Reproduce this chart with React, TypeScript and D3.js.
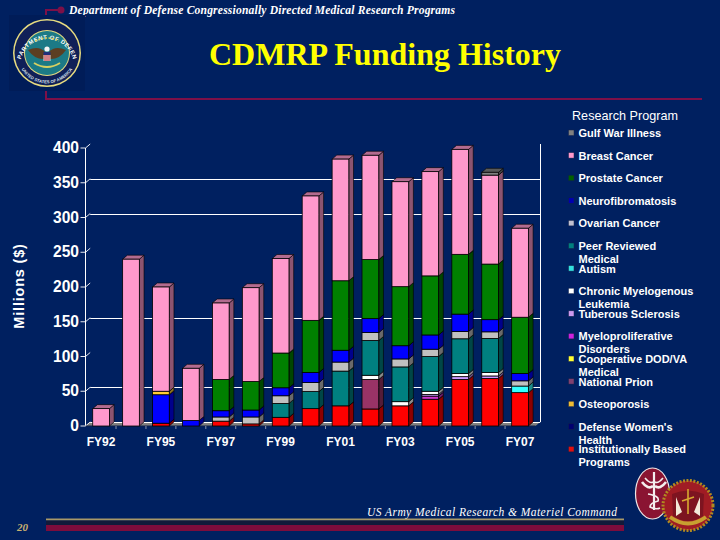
import React from "react";
import * as d3 from "d3";

const years = ["FY92","FY93","FY95","FY96","FY97","FY98","FY99","FY00","FY01","FY02","FY03","FY04","FY05","FY06","FY07"];
const shownYears = ["FY92","FY95","FY97","FY99","FY01","FY03","FY05","FY07"];
const yTicks = [0,50,100,150,200,250,300,350,400];
const gridValues = [50,150,300,350];

const institutional = [0,0,4,0,7,3,12.5,25,29,24.5,29,38.5,67,68.5,48];
const womensHealth =  [0,0,41,8,0,0,0,0,0,0,0,0,0,0,0];
const osteoporosis =  [0,0,5,0,0,0,0,0,0,0,0,0,0,0,0];
const prion =         [0,0,0,0,0,0,0,0,0,42.5,0,0,0,0,0];
const cooperative =   [0,0,0,0,0,0,0,0,0,0,0,0,0,0,0];
const myelo =         [0,0,0,0,0,0,0,0,0,0,0,4.5,0,0,0];
const tuberous =      [0,0,0,0,0,0,0,0,0,0,0,2.5,4,3.5,0];
const cml =           [0,0,0,0,0,0,0,0,0,6,6,4.5,4.5,5,0];
const autism =        [0,0,0,0,0,0,0,0,0,0,0,0,0,0,9.5];
const peerReviewed =  [0,0,0,0,0,0,20,24.5,50,50,50,50,50,49,0];
const ovarian =       [0,0,0,0,6,10,11,13,13,11.5,11.5,10.5,10.5,9.5,7.5];
const neuro =         [0,0,0,0,9,10,11.5,14.5,17,20,19,20.5,25,17.5,10.5];
const prostate =      [0,0,0,0,45,41,50,75,100,85,85,85,86,80,81];
const breast =        [25,240,150,75,110,135,136,179,175,150,151,150,151,128,128];
const gulfWar =       [0,0,0,0,0,0,0,0,0,0,0,0,0,4,0];

const seriesNames = ["Institutionally Based Programs","Defense Women's Health","Osteoporosis","National Prion","Cooperative DOD/VA Medical","Myeloproliferative Disorders","Tuberous Sclerosis","Chronic Myelogenous Leukemia","Autism","Peer Reviewed Medical","Ovarian Cancer","Neurofibromatosis","Prostate Cancer","Breast Cancer","Gulf War Illness"];
const seriesValues = [institutional,womensHealth,osteoporosis,prion,cooperative,myelo,tuberous,cml,autism,peerReviewed,ovarian,neuro,prostate,breast,gulfWar];
const barColors = ["#ff0000","#0000ff","#ffcc33","#993366","#ffff00","#cc33cc","#cc99ff","#ffffff","#33ffff","#008080","#c0c0c0","#0000ff","#008000","#ff99cc","#808080"];

const legendOrder = ["Gulf War Illness","Breast Cancer","Prostate Cancer","Neurofibromatosis","Ovarian Cancer","Peer Reviewed Medical","Autism","Chronic Myelogenous Leukemia","Tuberous Sclerosis","Myeloproliferative Disorders","Cooperative DOD/VA Medical","National Prion","Osteoporosis","Defense Women's Health","Institutionally Based Programs"];
const legendLines = [["Gulf War Illness"],["Breast Cancer"],["Prostate Cancer"],["Neurofibromatosis"],["Ovarian Cancer"],["Peer Reviewed","Medical"],["Autism"],["Chronic Myelogenous","Leukemia"],["Tuberous Sclerosis"],["Myeloproliferative","Disorders"],["Cooperative DOD/VA","Medical"],["National Prion"],["Osteoporosis"],["Defense Women's","Health"],["Institutionally Based","Programs"]];
const legendSwatches = ["#808080","#ff99cc","#006000","#0000b0","#c0c0d0","#008080","#33e0e0","#ffffff","#cc99ee","#cc22dd","#ffff33","#804070","#eebb33","#000070","#e01010"];

const BG = "#002060";
const MAROON = "#7d1048";
const DX = 4.7, DY = 4;
const FLOOR = 426;

const x = d3.scaleBand<string>().domain(years).range([86.1, 535]).paddingInner(0.442).paddingOuter(0.221);
const y = d3.scaleLinear().domain([0, 400]).range([FLOOR, FLOOR - 278]);
const legendY = d3.scalePoint<string>().domain(legendOrder).range([133, 133 + 22.6 * 14]);

const rows = years.map((yr, i) => {
  const r: Record<string, number> = {};
  seriesNames.forEach((n, s) => { r[n] = seriesValues[s][i]; });
  return r;
});
const stacked = d3.stack<Record<string, number>>().keys(seriesNames)(rows);

const shade = (c: string, t: number) => d3.interpolateRgb(c, "#000000")(t);
const poly = (p: number[][]) => p.map(q => q.join(",")).join(" ");
const crisp = (v: number) => Math.round(v) + 0.5;
const sans = "'Liberation Sans', Arial, sans-serif";
const serif = "'Liberation Serif', 'Times New Roman', serif";

function Bars() {
  const w = x.bandwidth();
  const out: React.ReactNode[] = [];
  years.forEach((yr, i) => {
    const x0 = x(yr) as number;
    stacked.forEach((layer, s) => {
      const [a, b] = layer[i];
      if (b - a <= 0) return;
      const y0 = y(a), y1 = y(b), c = barColors[s];
      out.push(
        <g key={yr + s}>
          <polygon points={poly([[x0 + w, y0], [x0 + w + DX, y0 - DY], [x0 + w + DX, y1 - DY], [x0 + w, y1]])} fill={shade(c, 0.45)} stroke="#000" strokeWidth={0.6} />
          <polygon points={poly([[x0, y1], [x0 + DX, y1 - DY], [x0 + w + DX, y1 - DY], [x0 + w, y1]])} fill={shade(c, 0.3)} stroke="#000" strokeWidth={0.6} />
          <rect x={x0} y={y1} width={w} height={y0 - y1} fill={c} stroke="#000" strokeWidth={0.8} />
        </g>
      );
    });
  });
  return <g>{out}</g>;
}

function Axes() {
  const left = 85.5;
  const right = 535.5;
  return (
    <g>
      <polygon points={poly([[left, FLOOR], [left + DX, FLOOR - DY], [right + DX, FLOOR - DY], [right, FLOOR]])} fill="#808080" />
      <line x1={left + DX} x2={right + DX} y1={crisp(FLOOR - DY)} y2={crisp(FLOOR - DY)} stroke="#fff" strokeWidth={1} />
      {gridValues.map(v => (
        <line key={v} x1={left + DX} x2={right + DX} y1={crisp(y(v) - DY)} y2={crisp(y(v) - DY)} stroke="#fff" strokeWidth={1} />
      ))}
      <line x1={crisp(right + DX)} x2={crisp(right + DX)} y1={y(400) - DY} y2={FLOOR - DY} stroke="#fff" strokeWidth={1} />
      <line x1={crisp(x("FY02") as number)} x2={crisp(x("FY02") as number)} y1={y(390)} y2={FLOOR} stroke="#fff" strokeWidth={1} />
      <line x1={left} x2={left} y1={y(400)} y2={FLOOR} stroke="#fff" strokeWidth={1} />
      {yTicks.map(v => (
        <g key={v}>
          <polyline points={poly([[left - 5, y(v)], [left, y(v)], [left + DX, y(v) - DY]])} fill="none" stroke="#fff" strokeWidth={0.9} />
          <text x={79} y={y(v) + 5.2} textAnchor="end" fontFamily={sans} fontWeight="bold" fontSize={15.6} fill="#fff">{v}</text>
        </g>
      ))}
      <line x1={left} x2={right} y1={FLOOR} y2={FLOOR} stroke="#10204a" strokeWidth={1} />
      {years.map((yr, i) => i === 0 ? null : (
        <line key={yr} x1={(x(yr) as number) - x.step() * 0.221} x2={(x(yr) as number) - x.step() * 0.221} y1={FLOOR} y2={FLOOR + 3} stroke="#8890a8" strokeWidth={1} />
      ))}
      {shownYears.map(yr => (
        <text key={yr} x={(x(yr) as number) + x.bandwidth() / 2} y={445.5} textAnchor="middle" fontFamily={sans} fontWeight="bold" fontSize={12} fill="#fff">{yr}</text>
      ))}
      <text transform="translate(23.5,286) rotate(-90)" textAnchor="middle" fontFamily={sans} fontWeight="bold" fontSize={14.5} letterSpacing={0.8} fill="#fff">Millions ($)</text>
    </g>
  );
}

function Legend() {
  return (
    <g fontFamily={sans} fontWeight="bold" fontSize={11} fill="#fff">
      <text x={572} y={120} fontWeight="normal" fontSize={12.6} textLength={106}>Research Program</text>
      {legendOrder.map((n, i) => {
        const cy = legendY(n) as number;
        return (
          <g key={n}>
            <rect x={568.5} y={cy - 3} width={5.5} height={5.5} fill={legendSwatches[i]} stroke="#10204a" strokeWidth={0.5} />
            {legendLines[i].map((l, j) => (
              <text key={l} x={578.5} y={cy + 4 + j * 13}>{l}</text>
            ))}
          </g>
        );
      })}
    </g>
  );
}

function Seal() {
  return (
    <g transform="translate(47,53)">
      <rect x={-38} y={-38} width={76} height={76} fill="#001c58" />
      <circle r={34} fill="#e8dc80" />
      <circle r={32.5} fill="#102058" />
      <circle r={23} fill="#e8dc80" />
      <circle r={22} fill="#1c7a86" />
      <defs>
        <path id="sealTop" d="M -26 6 A 27 27 0 0 1 26 6" />
        <path id="sealBottom" d="M -29 8 A 30 30 0 0 0 29 8" />
      </defs>
      <text fontFamily={sans} fontWeight="bold" fontSize={5.8} fill="#fff" letterSpacing={0.5}>
        <textPath href="#sealTop" startOffset="50%" textAnchor="middle">DEPARTMENT OF DEFENSE</textPath>
      </text>
      <text fontFamily={sans} fontWeight="bold" fontSize={4.2} fill="#dfe4ee">
        <textPath href="#sealBottom" startOffset="50%" textAnchor="middle">UNITED STATES OF AMERICA</textPath>
      </text>
      <path d="M -19 -3 Q -8 -8 -2 -1 L -2 6 Q -12 7 -19 -3 Z" fill="#5c3e22" />
      <path d="M 19 -3 Q 8 -8 2 -1 L 2 6 Q 12 7 19 -3 Z" fill="#5c3e22" />
      <circle cy={-4} r={2.6} fill="#f4f4f4" />
      <rect x={-3.5} y={-1} width={7} height={3} fill="#22307a" />
      <rect x={-3.5} y={2} width={7} height={6} fill="#e6e0e0" />
      <path d="M -2 2 V 8 M 0 2 V 8 M 2 2 V 8" stroke="#c02030" strokeWidth={1} />
      <path d="M -13 10 Q 0 18 13 10" fill="none" stroke="#d8d060" strokeWidth={2} />
      <path d="M -12 -12 Q 0 -18 12 -12" fill="none" stroke="#d8d060" strokeWidth={1.5} strokeDasharray="2 1.5" />
    </g>
  );
}

function Crests() {
  return (
    <g>
      <ellipse cx={652.5} cy={493.5} rx={17} ry={25.5} fill="#8a1432" stroke="#f0e6e6" strokeWidth={1.2} />
      <g stroke="#f4eeee" fill="none" strokeWidth={1.6}>
        <path d="M 654 472 V 510" strokeWidth={2.2} />
        <path d="M 642 482 Q 648 490 653 486 M 666 482 Q 660 490 655 486" strokeWidth={2.6} />
        <path d="M 645 478 Q 650 484 653 482 M 663 478 Q 658 484 655 482" />
        <path d="M 648 494 Q 660 496 658 501 Q 650 503 650 507 Q 656 510 660 508" />
      </g>
      <circle cx={688} cy={505.5} r={25} fill="#a01c24" />
      <circle cx={688} cy={505.5} r={25} fill="none" stroke="#b08a20" strokeWidth={3} strokeDasharray="2 1.5" />
      <path d="M 672 494 Q 688 487 704 494 L 703 516 Q 688 526 673 516 Z" fill="#7d1420" />
      <path d="M 676 497 L 682 512 L 676 516 Z M 700 497 L 694 512 L 700 516 Z" fill="#f2ead8" />
      <path d="M 688 489 V 514 M 682 501 L 694 497" stroke="#d8a830" strokeWidth={1.6} fill="none" />
      <path d="M 670 517 Q 688 530 706 517" fill="none" stroke="#c8a030" strokeWidth={4} />
    </g>
  );
}

function Frame() {
  return (
    <g>
      <path d="M 61 10 H 46 V 99 H 702" fill="none" stroke={MAROON} strokeWidth={2} />
      <circle cx={61} cy={10} r={3.5} fill={MAROON} />
      <text x={69} y={14} fontFamily={serif} fontStyle="italic" fontWeight="bold" fontSize={11.6} fill="#fff" textLength={386}>Department of Defense Congressionally Directed Medical Research Programs</text>
      <text x={385} y={65} textAnchor="middle" fontFamily={serif} fontWeight="bold" fontSize={32} fill="#ffff00">CDMRP Funding History</text>
      <text x={367} y={516} fontFamily={serif} fontStyle="italic" fontSize={11.5} fill="#fff" textLength={250}>US Army Medical Research &amp; Materiel Command</text>
      <text x={17} y={531} fontFamily={serif} fontStyle="italic" fontWeight="bold" fontSize={11} fill="#c8b070">20</text>
      <rect x={46} y={518.5} width={578} height={2} fill="#a89868" />
      <rect x={46} y={520.5} width={578} height={4.5} fill="#111a3a" />
      <rect x={46} y={525} width={578} height={6} fill="#7d0c3c" />
    </g>
  );
}

export default function App() {
  return (
    <svg width={720} height={540} viewBox="0 0 720 540" style={{ position: "absolute", left: 0, top: 0, display: "block" }}>
      <rect width={720} height={540} fill={BG} />
      <Frame />
      <Seal />
      <Crests />
      <Axes />
      <Bars />
      <Legend />
    </svg>
  );
}
